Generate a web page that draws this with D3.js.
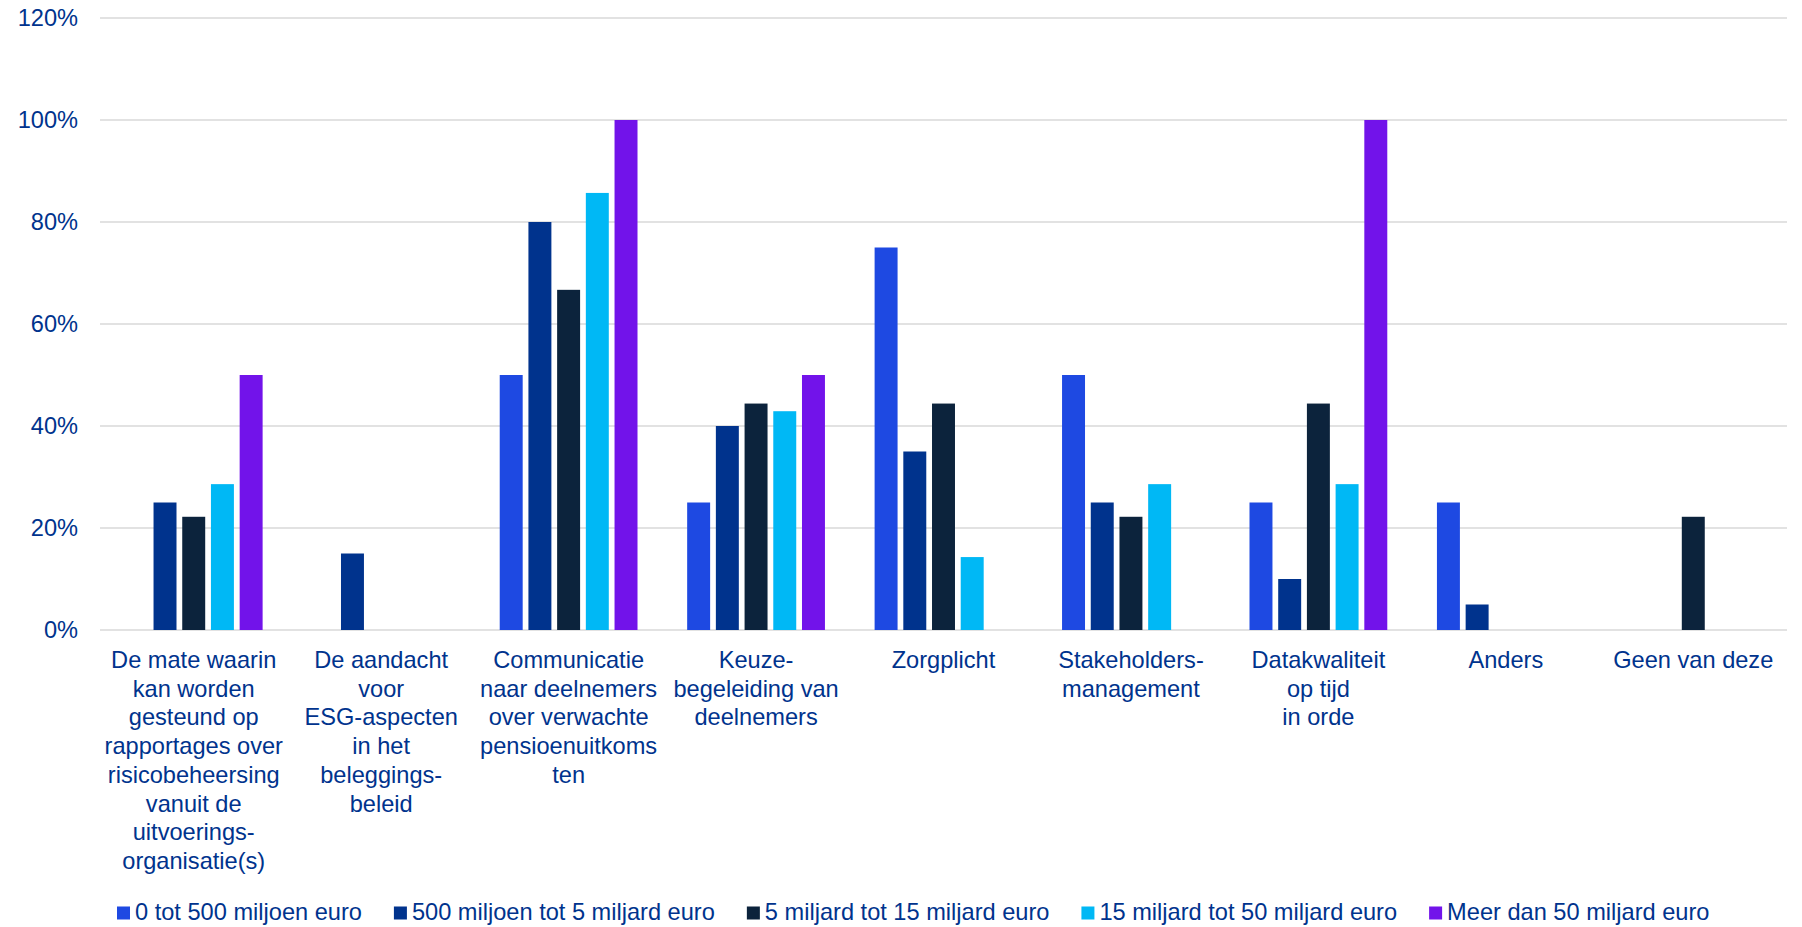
<!DOCTYPE html>
<html>
<head>
<meta charset="utf-8">
<script src="https://cdn.jsdelivr.net/npm/d3@7"></script>
<style>
body { margin: 0; background: #fff; }
text { font-family: "Liberation Sans", Arial, sans-serif; fill: #00338d; }
</style>
</head>
<body>
<div class="chart"></div>
<script>
const categories = [
	["De mate waarin", "kan worden", "gesteund op", "rapportages over", "risicobeheersing", "vanuit de", "uitvoerings-", "organisatie(s)"],
	["De aandacht", "voor", "ESG-aspecten", "in het", "beleggings-", "beleid"],
	["Communicatie", "naar deelnemers", "over verwachte", "pensioenuitkoms", "ten"],
	["Keuze-", "begeleiding van", "deelnemers"],
	["Zorgplicht"],
	["Stakeholders-", "management"],
	["Datakwaliteit", "op tijd", "in orde"],
	["Anders"],
	["Geen van deze"]
];
const seriesNames = [
	"0 tot 500 miljoen euro",
	"500 miljoen tot 5 miljard euro",
	"5 miljard tot 15 miljard euro",
	"15 miljard tot 50 miljard euro",
	"Meer dan 50 miljard euro"
];
const tot500mln = [0, 0, 50, 25, 75, 50, 25, 25, 0];
const tot5mld = [25, 15, 80, 40, 35, 25, 10, 5, 0];
const tot15mld = [22.2, 0, 66.7, 44.4, 44.4, 22.2, 44.4, 0, 22.2];
const tot50mld = [28.6, 0, 85.7, 42.9, 14.3, 28.6, 28.6, 0, 0];
const meerDan50mld = [50, 0, 100, 50, 0, 0, 100, 0, 0];
const yTicks = [0, 20, 40, 60, 80, 100, 120];
const colors = ["#1e49e2", "#00338d", "#0c233c", "#00b8f5", "#7213ea"];

const series = [tot500mln, tot5mld, tot15mld, tot50mld, meerDan50mld];

var w = 1802,
	h = 927,
	plotLeft = 100,
	plotRight = 1787,
	plotTop = 18,
	plotBottom = 630,
	fontSize = 23.6;

const svg = d3.select(".chart").append("svg").attr("width", w).attr("height", h);

const x0 = d3.scaleBand().domain(d3.range(categories.length)).range([plotLeft, plotRight]);
const x1 = d3
	.scaleBand()
	.domain(d3.range(series.length))
	.range([0, x0.bandwidth()])
	.paddingInner(0.2)
	.paddingOuter(0.865);
const y = d3.scaleLinear().domain([0, 120]).range([plotBottom, plotTop]);

// gridlines
svg
	.append("g")
	.selectAll("line")
	.data(yTicks)
	.enter()
	.append("line")
	.attr("x1", plotLeft)
	.attr("x2", plotRight)
	.attr("y1", (d) => y(d))
	.attr("y2", (d) => y(d))
	.attr("stroke", "#d9d9d9")
	.attr("stroke-width", 1.6);

// y axis
const yAxis = d3
	.axisLeft(y)
	.tickValues(yTicks)
	.tickSize(0)
	.tickPadding(0)
	.tickFormat((d) => d + "%");
const gy = svg.append("g").attr("transform", "translate(78,0)").call(yAxis);
gy.select(".domain").remove();
gy.selectAll("text").attr("font-size", fontSize).attr("font-family", null).attr("fill", "#00338d");

// bars
series.forEach((values, si) => {
	svg
		.append("g")
		.selectAll("rect")
		.data(values)
		.enter()
		.append("rect")
		.attr("x", (d, i) => x0(i) + x1(si))
		.attr("y", (d) => y(d))
		.attr("width", x1.bandwidth())
		.attr("height", (d) => y(0) - y(d))
		.attr("fill", colors[si]);
});

// x axis labels
const xAxis = d3.axisBottom(x0).tickSize(0).tickFormat("");
const gx = svg.append("g").attr("transform", "translate(0," + plotBottom + ")").call(xAxis);
gx.select(".domain").remove();
gx.selectAll(".tick")
	.append("text")
	.attr("text-anchor", "middle")
	.attr("font-size", fontSize)
	.attr("y", 38)
	.selectAll("tspan")
	.data((d) => categories[d])
	.enter()
	.append("tspan")
	.attr("x", 0)
	.attr("dy", (d, i) => (i === 0 ? 0 : 28.7))
	.text((d) => d);

// legend
const legend = svg.append("g").attr("transform", "translate(117,920)");
let lx = 0;
seriesNames.forEach((name, i) => {
	const item = legend.append("g").attr("transform", "translate(" + lx + ",0)");
	item
		.append("rect")
		.attr("x", 0)
		.attr("y", -13.5)
		.attr("width", 13)
		.attr("height", 13)
		.attr("fill", colors[i]);
	const t = item.append("text").attr("x", 18).attr("font-size", fontSize).text(name);
	lx += 18 + t.node().getComputedTextLength() + 32;
});
</script>
</body>
</html>
